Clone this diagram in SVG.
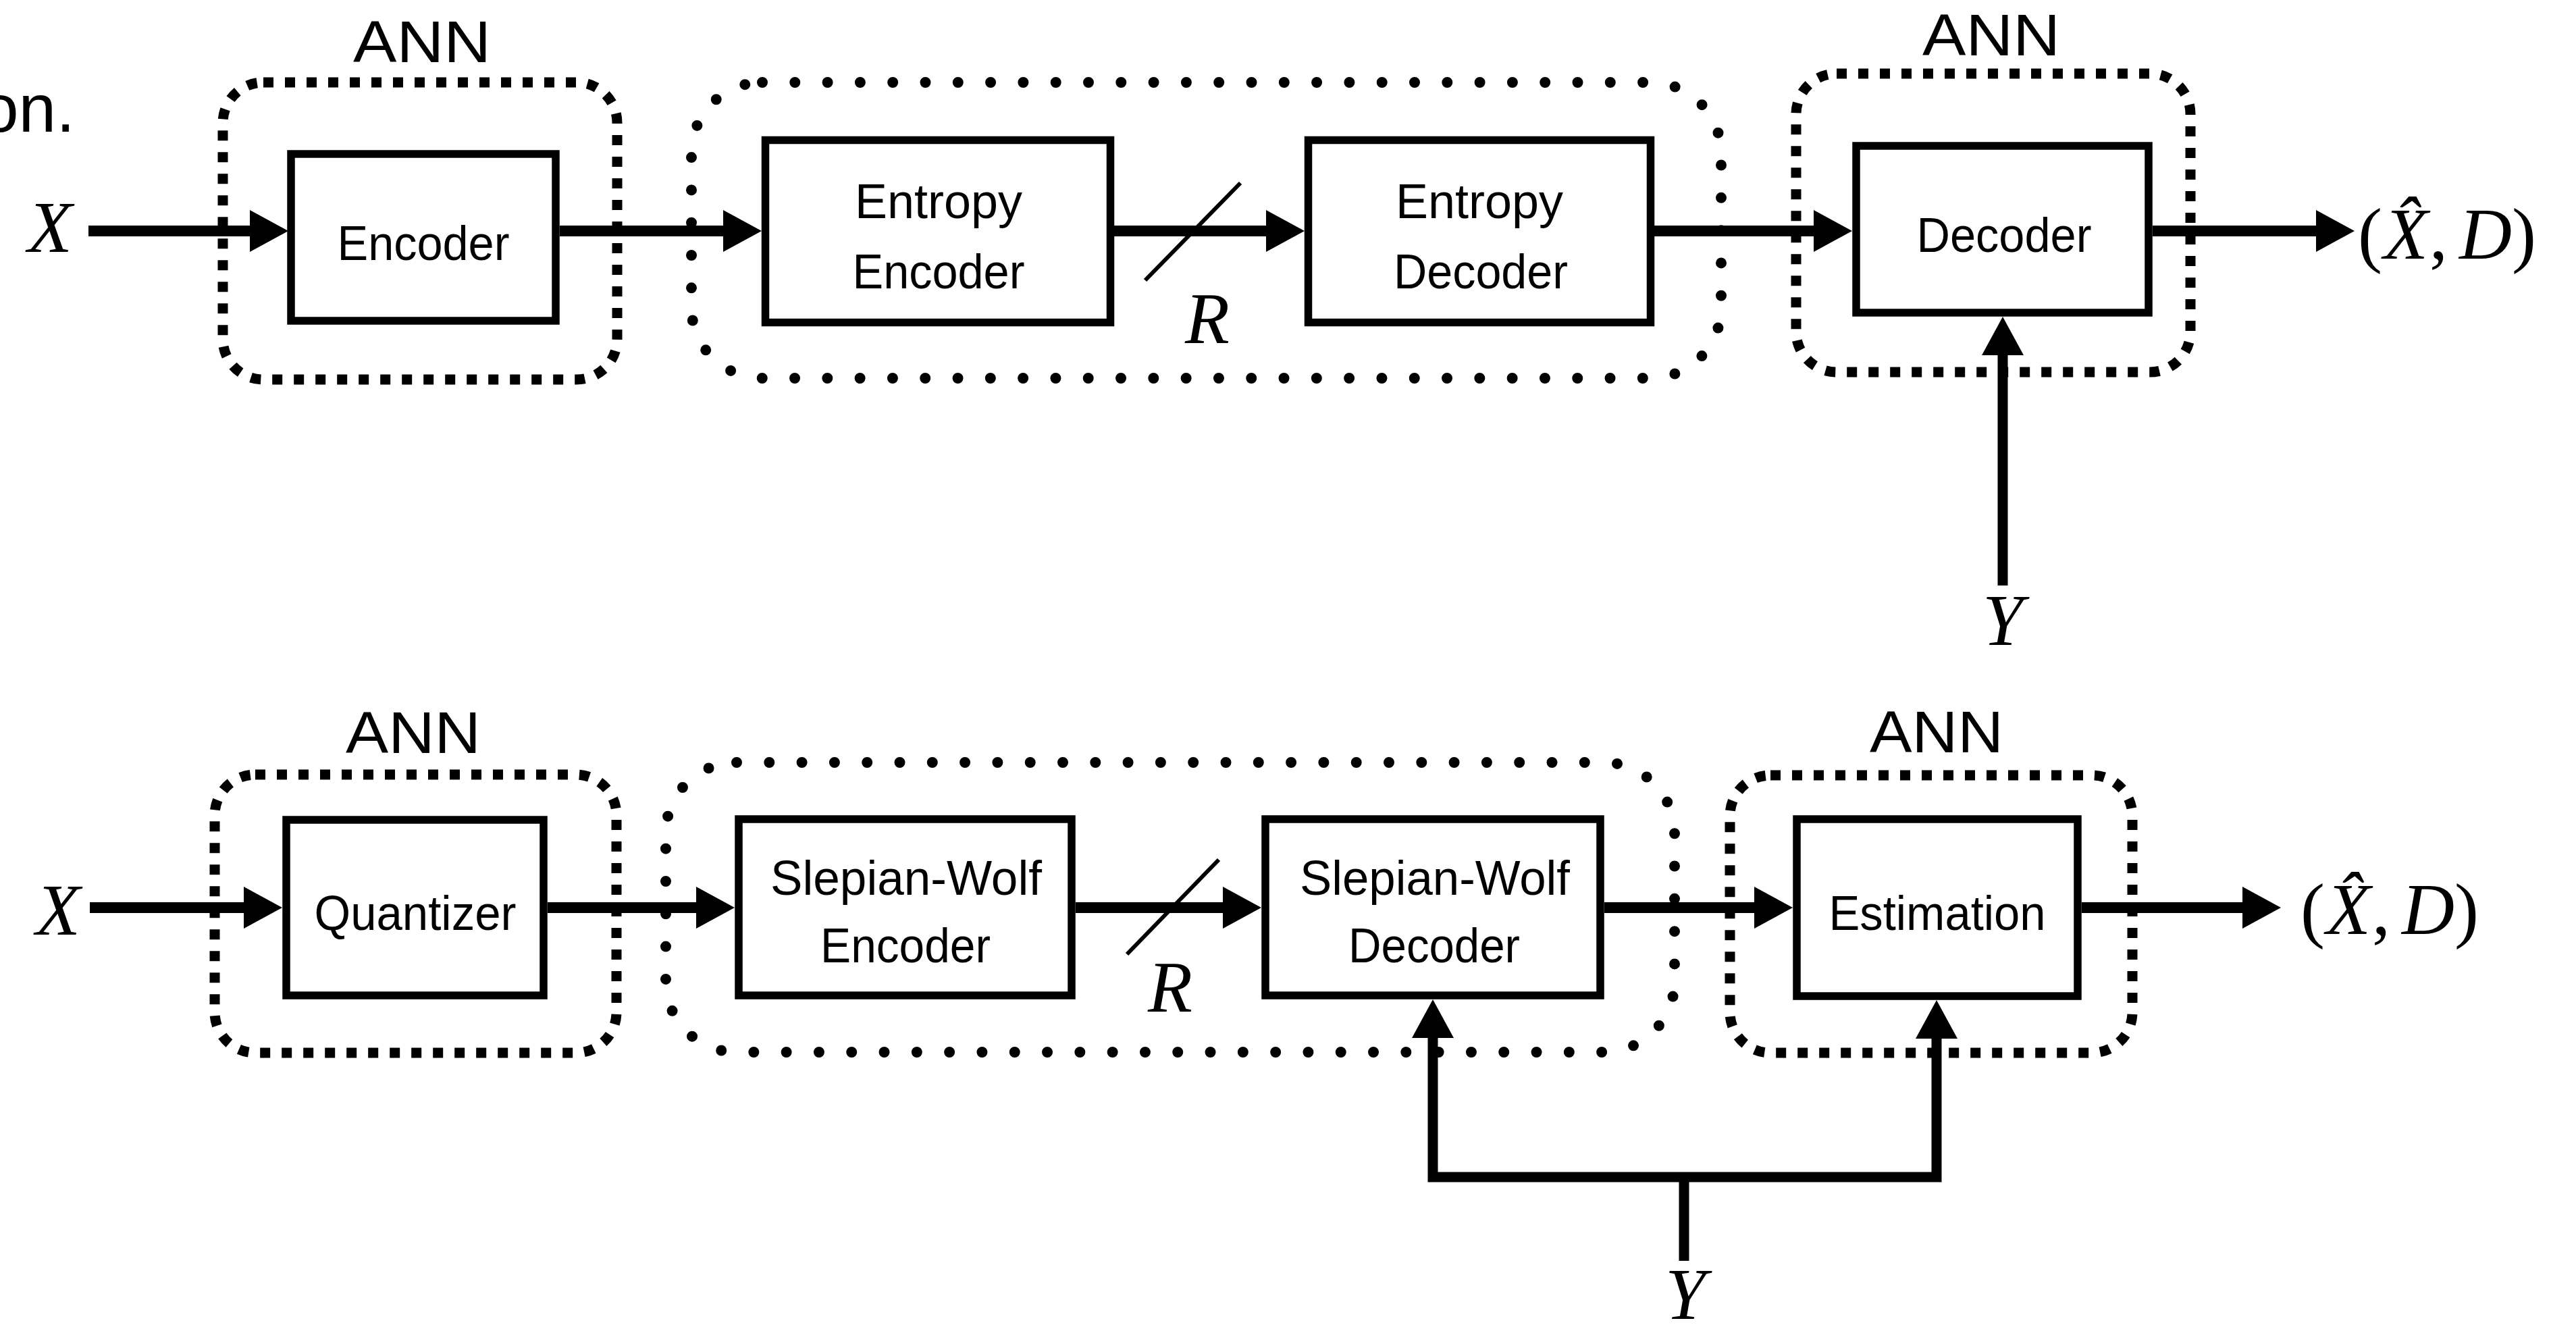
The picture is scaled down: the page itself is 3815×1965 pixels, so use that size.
<svg xmlns="http://www.w3.org/2000/svg" width="3815" height="1965" viewBox="0 0 3815 1965">
  <style>
    .box { fill: #fff; stroke: #000; stroke-width: 11.5; }
    .ann { fill: none; stroke: #000; stroke-width: 15; stroke-dasharray: 15 17; }
    .dots { fill: none; stroke: #000; stroke-width: 16; stroke-linecap: round; stroke-dasharray: 0 48.3; }
    .lbl { font-family: "Liberation Sans", Arial, sans-serif; font-size: 72px; text-anchor: middle; fill: #000; }
    .annlbl { font-family: "Liberation Sans", Arial, sans-serif; font-size: 88px; text-anchor: middle; fill: #000; }
    .math { font-family: "Liberation Serif", "Times New Roman", serif; font-size: 108px; fill: #000; }
    .it { font-style: italic; }
    .wire { fill: none; stroke: #000; stroke-width: 16; }
    .side { fill: none; stroke: #000; stroke-width: 15; }
    .slash { stroke: #000; stroke-width: 6; }
  </style>
  <defs>
    <marker id="head" markerUnits="userSpaceOnUse" markerWidth="58" markerHeight="62" refX="0" refY="31" orient="auto" overflow="visible">
      <path d="M0,0 L57,31 L0,62 z" fill="#000"/>
    </marker>
  </defs>
  <rect width="3815" height="1965" fill="#fff"/>

  <!-- trailing caption fragment -->
  <text x="111" y="195" font-family="Liberation Sans, Arial, sans-serif" font-size="100" text-anchor="end">on.</text>

  <!-- ===== top chain: learned codec with side information at decoder ===== -->
  <g id="ann-encoder">
    <rect class="ann" x="330" y="122" width="584" height="440" rx="60"/>
    <text class="annlbl" x="625" y="92" textLength="204" lengthAdjust="spacingAndGlyphs">ANN</text>
  </g>
  <g id="entropy-coding">
    <rect class="dots" x="1024" y="122" width="1525" height="438" rx="105"/>
  </g>
  <g id="ann-decoder">
    <rect class="ann" x="2660" y="109" width="584" height="442" rx="60"/>
    <text class="annlbl" x="2949" y="82" textLength="204" lengthAdjust="spacingAndGlyphs">ANN</text>
  </g>

  <g id="encoder">
    <rect class="box" x="431" y="228" width="392" height="247"/>
    <text class="lbl" x="627" y="385" textLength="255" lengthAdjust="spacingAndGlyphs">Encoder</text>
  </g>
  <g id="entropy-encoder">
    <rect class="box" x="1133.5" y="207.5" width="511" height="270"/>
    <text class="lbl" x="1390" y="323" textLength="248" lengthAdjust="spacingAndGlyphs">Entropy</text>
    <text class="lbl" x="1390" y="427" textLength="255" lengthAdjust="spacingAndGlyphs">Encoder</text>
  </g>
  <g id="entropy-decoder">
    <rect class="box" x="1937.5" y="207.5" width="507" height="270"/>
    <text class="lbl" x="2191" y="323" textLength="248" lengthAdjust="spacingAndGlyphs">Entropy</text>
    <text class="lbl" x="2193" y="427" textLength="258" lengthAdjust="spacingAndGlyphs">Decoder</text>
  </g>
  <g id="decoder">
    <rect class="box" x="2749" y="216" width="433" height="247"/>
    <text class="lbl" x="2968" y="373" textLength="259" lengthAdjust="spacingAndGlyphs">Decoder</text>
  </g>

  <!-- ===== bottom chain: Wyner-Ziv style pipeline ===== -->
  <g id="ann-quantizer">
    <rect class="ann" x="318" y="1147" width="595" height="412" rx="60"/>
    <text class="annlbl" x="612" y="1115" textLength="200" lengthAdjust="spacingAndGlyphs">ANN</text>
  </g>
  <g id="slepian-wolf-coding">
    <rect class="dots" x="986" y="1129" width="1494" height="429" rx="105"/>
  </g>
  <g id="ann-estimation">
    <rect class="ann" x="2562" y="1148" width="596" height="411" rx="60"/>
    <text class="annlbl" x="2868" y="1114" textLength="198" lengthAdjust="spacingAndGlyphs">ANN</text>
  </g>

  <g id="quantizer">
    <rect class="box" x="424" y="1214" width="381" height="260"/>
    <text class="lbl" x="615" y="1377" textLength="299" lengthAdjust="spacingAndGlyphs">Quantizer</text>
  </g>
  <g id="sw-encoder">
    <rect class="box" x="1094" y="1213" width="493" height="261"/>
    <text class="lbl" x="1342" y="1325" textLength="402" lengthAdjust="spacingAndGlyphs">Slepian-Wolf</text>
    <text class="lbl" x="1341" y="1425" textLength="252" lengthAdjust="spacingAndGlyphs">Encoder</text>
  </g>
  <g id="sw-decoder">
    <rect class="box" x="1874" y="1213" width="496" height="261"/>
    <text class="lbl" x="2125" y="1325" textLength="400" lengthAdjust="spacingAndGlyphs">Slepian-Wolf</text>
    <text class="lbl" x="2124" y="1425" textLength="254" lengthAdjust="spacingAndGlyphs">Decoder</text>
  </g>
  <g id="estimation">
    <rect class="box" x="2661" y="1213" width="416" height="262"/>
    <text class="lbl" x="2869" y="1377" textLength="321" lengthAdjust="spacingAndGlyphs">Estimation</text>
  </g>

  <!-- ===== connectors ===== -->
  <g id="connectors">
    <line class="wire" x1="131" y1="342" x2="370" y2="342" marker-end="url(#head)"/>
    <line class="wire" x1="829" y1="342" x2="1071" y2="342" marker-end="url(#head)"/>
    <line class="wire" x1="1650" y1="342" x2="1875" y2="342" marker-end="url(#head)"/>
    <line class="wire" x1="2450" y1="342" x2="2686" y2="342" marker-end="url(#head)"/>
    <line class="wire" x1="3188" y1="342" x2="3430" y2="342" marker-end="url(#head)"/>
    <line class="side" x1="2966" y1="867" x2="2966" y2="526" marker-end="url(#head)"/>
    <line class="slash" x1="1696" y1="415" x2="1837" y2="271"/>

    <line class="wire" x1="133" y1="1344" x2="361" y2="1344" marker-end="url(#head)"/>
    <line class="wire" x1="811" y1="1344" x2="1031" y2="1344" marker-end="url(#head)"/>
    <line class="wire" x1="1593" y1="1344" x2="1811" y2="1344" marker-end="url(#head)"/>
    <line class="wire" x1="2376" y1="1344" x2="2598" y2="1344" marker-end="url(#head)"/>
    <line class="wire" x1="3083" y1="1344" x2="3321" y2="1344" marker-end="url(#head)"/>
    <path class="side" d="M2494,1743 H2122 V1537" marker-end="url(#head)"/>
    <path class="side" d="M2494,1743 H2868 V1538" marker-end="url(#head)"/>
    <line class="side" x1="2494" y1="1743" x2="2494" y2="1867"/>
    <line class="slash" x1="1669" y1="1413" x2="1805" y2="1273"/>
  </g>

  <!-- ===== math labels ===== -->
  <g id="math-labels">
    <text class="math it" x="74" y="373" text-anchor="middle">X</text>
    <text class="math it" x="1788" y="508" text-anchor="middle">R</text>
    <text class="math it" x="2966" y="955" text-anchor="middle">Y</text>
    <text class="math" y="383"><tspan x="3492">(</tspan><tspan class="it" x="3530">X̂</tspan><tspan x="3598">,</tspan><tspan class="it" x="3642">D</tspan><tspan x="3720">)</tspan></text>

    <text class="math it" x="86" y="1384" text-anchor="middle">X</text>
    <text class="math it" x="1733" y="1498" text-anchor="middle">R</text>
    <text class="math it" x="2496" y="1953" text-anchor="middle">Y</text>
    <text class="math" y="1383"><tspan x="3407">(</tspan><tspan class="it" x="3445">X̂</tspan><tspan x="3513">,</tspan><tspan class="it" x="3557">D</tspan><tspan x="3635">)</tspan></text>
  </g>
</svg>
